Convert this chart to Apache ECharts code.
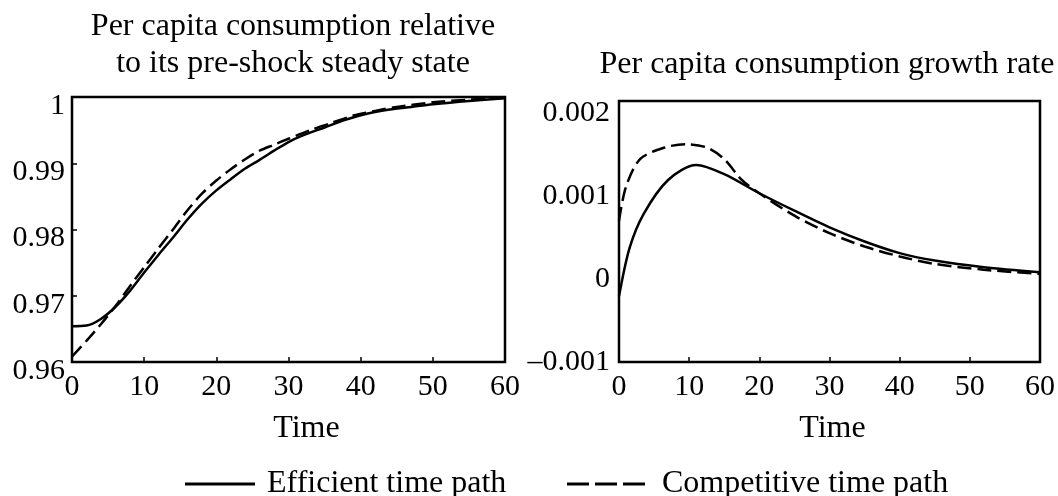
<!DOCTYPE html>
<html>
<head>
<meta charset="utf-8">
<script src="https://cdn.jsdelivr.net/npm/echarts@6/dist/echarts.min.js"></script>
<style>
  html, body { margin: 0; padding: 0; background: #fff; }
  #chart { width: 1058px; height: 496px; }
</style>
</head>
<body>
<div id="chart"></div>
<script>
// left panel: consumption relative to pre-shock steady state
var levelTimeEff = [0, 2, 4, 6, 8, 10, 12, 14, 16, 18, 20, 22, 24, 26, 28, 30, 32, 35, 38, 41, 44, 47, 50, 55, 60];
var levelEff = [0.9654, 0.9655, 0.9665, 0.9683, 0.9707, 0.9735, 0.9762, 0.9788, 0.9815, 0.9839, 0.9859, 0.9876, 0.9892,
  0.9905, 0.9919, 0.9932, 0.9942, 0.9954, 0.9966, 0.9975, 0.9981, 0.9985, 0.9989, 0.9994, 0.9998];
var levelTimeComp = [0, 2, 4, 6, 8, 10, 12, 14, 16, 18, 20, 22, 24, 26, 28, 30, 33, 36, 39, 42, 45, 50, 55, 60];
var levelComp = [0.9608, 0.9632, 0.9657, 0.9684, 0.9714, 0.9743, 0.9772, 0.9800, 0.9829, 0.9854, 0.9874, 0.9891, 0.9906,
  0.9919, 0.9928, 0.9937, 0.9950, 0.9961, 0.9972, 0.9979, 0.9985, 0.9992, 0.9996, 0.9999];

// right panel: consumption growth rate
var growthTimeEff = [0, 1.5, 3.5, 7, 11, 15, 20, 25, 30, 35, 40, 45, 52, 60];
var growthEff = [-0.00021, 0.00037, 0.00078, 0.00119, 0.00137, 0.00126, 0.00103, 0.00082, 0.00062, 0.00045, 0.00031,
  0.00022, 0.00014, 0.00008];
var growthTimeComp = [0, 1, 3, 6.5, 9.5, 12.5, 15, 17.5, 20, 25, 30, 35, 40, 45, 52, 60];
var growthComp = [0.0007, 0.00111, 0.00144, 0.00158, 0.00162, 0.00158, 0.00144, 0.00119, 0.00103, 0.00076, 0.00055,
  0.00039, 0.00027, 0.00018, 0.00011, 0.00006];

var xTicks = [0, 10, 20, 30, 40, 50, 60];

function pairs(xs, ys) {
  return xs.map(function (x, i) { return [x, ys[i]]; });
}

var FONT = 'Liberation Serif';
var tickTxt = { fontFamily: FONT, fontSize: 30, color: '#000' };
var bigTxt = { fontFamily: FONT, fontSize: 32, color: '#000' };

function xAxisFor(gridIndex, namePad) {
  return {
    gridIndex: gridIndex,
    type: 'value',
    min: xTicks[0],
    max: xTicks[xTicks.length - 1],
    interval: 10,
    name: 'Time',
    nameLocation: 'middle',
    nameGap: 51,
    nameTextStyle: Object.assign({ padding: namePad }, bigTxt),
    axisLine: { show: false, onZero: false },
    axisTick: { show: true, inside: true, length: 5, lineStyle: { color: '#000', width: 1.5 } },
    axisLabel: Object.assign({ margin: 10 }, tickTxt),
    splitLine: { show: false }
  };
}

var chart = echarts.init(document.getElementById('chart'));

var option = {
  backgroundColor: '#fff',
  animation: false,
  title: [
    {
      text: 'Per capita consumption relative\nto its pre-shock steady state',
      left: 288, top: 3, textAlign: 'center',
      textStyle: Object.assign({ fontWeight: 'normal', lineHeight: 37 }, bigTxt)
    },
    {
      text: 'Per capita consumption growth rate',
      left: 822, top: 41, textAlign: 'center',
      textStyle: Object.assign({ fontWeight: 'normal', lineHeight: 37 }, bigTxt)
    }
  ],
  legend: [
    {
      data: [{ name: 'Efficient time path', icon: 'path://M0,0h70v3h-70z' }],
      left: 180, top: 463,
      itemWidth: 70, itemHeight: 3,
      textStyle: Object.assign({ padding: [0, 0, 0, 7] }, bigTxt)
    },
    {
      data: [{ name: 'Competitive time path', icon: 'path://M0,0h22v3h-22z M28,0h22v3h-22z M56,0h22v3h-22z' }],
      left: 562, top: 463,
      itemWidth: 78, itemHeight: 3,
      textStyle: Object.assign({ padding: [0, 0, 0, 12] }, bigTxt)
    }
  ],
  grid: [
    { left: 72, right: 553, top: 97, bottom: 134, show: true, borderColor: '#000', borderWidth: 2.5, backgroundColor: 'transparent' },
    { left: 619, right: 17, top: 101, bottom: 134, show: true, borderColor: '#000', borderWidth: 2.5, backgroundColor: 'transparent' }
  ],
  xAxis: [xAxisFor(0, [0, 0, 0, 36]), xAxisFor(1, [0, 0, 0, 6])],
  yAxis: [
    {
      gridIndex: 0,
      type: 'value',
      min: 0.96, max: 1, interval: 0.01,
      axisLine: { show: false, onZero: false },
      axisTick: { show: true, inside: true, length: 5, lineStyle: { color: '#000', width: 1.5 } },
      axisLabel: Object.assign({ margin: 7, verticalAlign: 'top', lineHeight: 18 }, tickTxt),
      splitLine: { show: false }
    },
    {
      gridIndex: 1,
      type: 'value',
      min: -0.001, max: 0.00214, interval: 0.001,
      axisLine: { show: false, onZero: false },
      axisTick: { show: false },
      axisLabel: Object.assign({
        margin: 9,
        formatter: function (v) {
          var k = Math.round(v * 1000);
          if (Math.abs(v * 1000 - k) > 1e-6) return '';
          if (k === 0) return '0';
          return (k / 1000).toFixed(3).replace('-', '\u2013');
        }
      }, tickTxt),
      splitLine: { show: false }
    }
  ],
  series: [
    {
      name: 'Efficient time path', type: 'line', xAxisIndex: 0, yAxisIndex: 0,
      data: pairs(levelTimeEff, levelEff), smooth: 0.3, showSymbol: false, symbol: 'none',
      lineStyle: { color: '#000', width: 2.5, type: 'solid' }, itemStyle: { color: '#000' }
    },
    {
      name: 'Competitive time path', type: 'line', xAxisIndex: 0, yAxisIndex: 0,
      data: pairs(levelTimeComp, levelComp), smooth: 0.3, showSymbol: false, symbol: 'none',
      lineStyle: { color: '#000', width: 2.5, type: [14, 6] }, itemStyle: { color: '#000' }
    },
    {
      name: 'Efficient time path', type: 'line', xAxisIndex: 1, yAxisIndex: 1,
      data: pairs(growthTimeEff, growthEff), smooth: 0.3, showSymbol: false, symbol: 'none',
      lineStyle: { color: '#000', width: 2.5, type: 'solid' }, itemStyle: { color: '#000' }
    },
    {
      name: 'Competitive time path', type: 'line', xAxisIndex: 1, yAxisIndex: 1,
      data: pairs(growthTimeComp, growthComp), smooth: 0.3, showSymbol: false, symbol: 'none',
      lineStyle: { color: '#000', width: 2.5, type: [14, 6] }, itemStyle: { color: '#000' }
    }
  ]
};

chart.setOption(option);
</script>
</body>
</html>
